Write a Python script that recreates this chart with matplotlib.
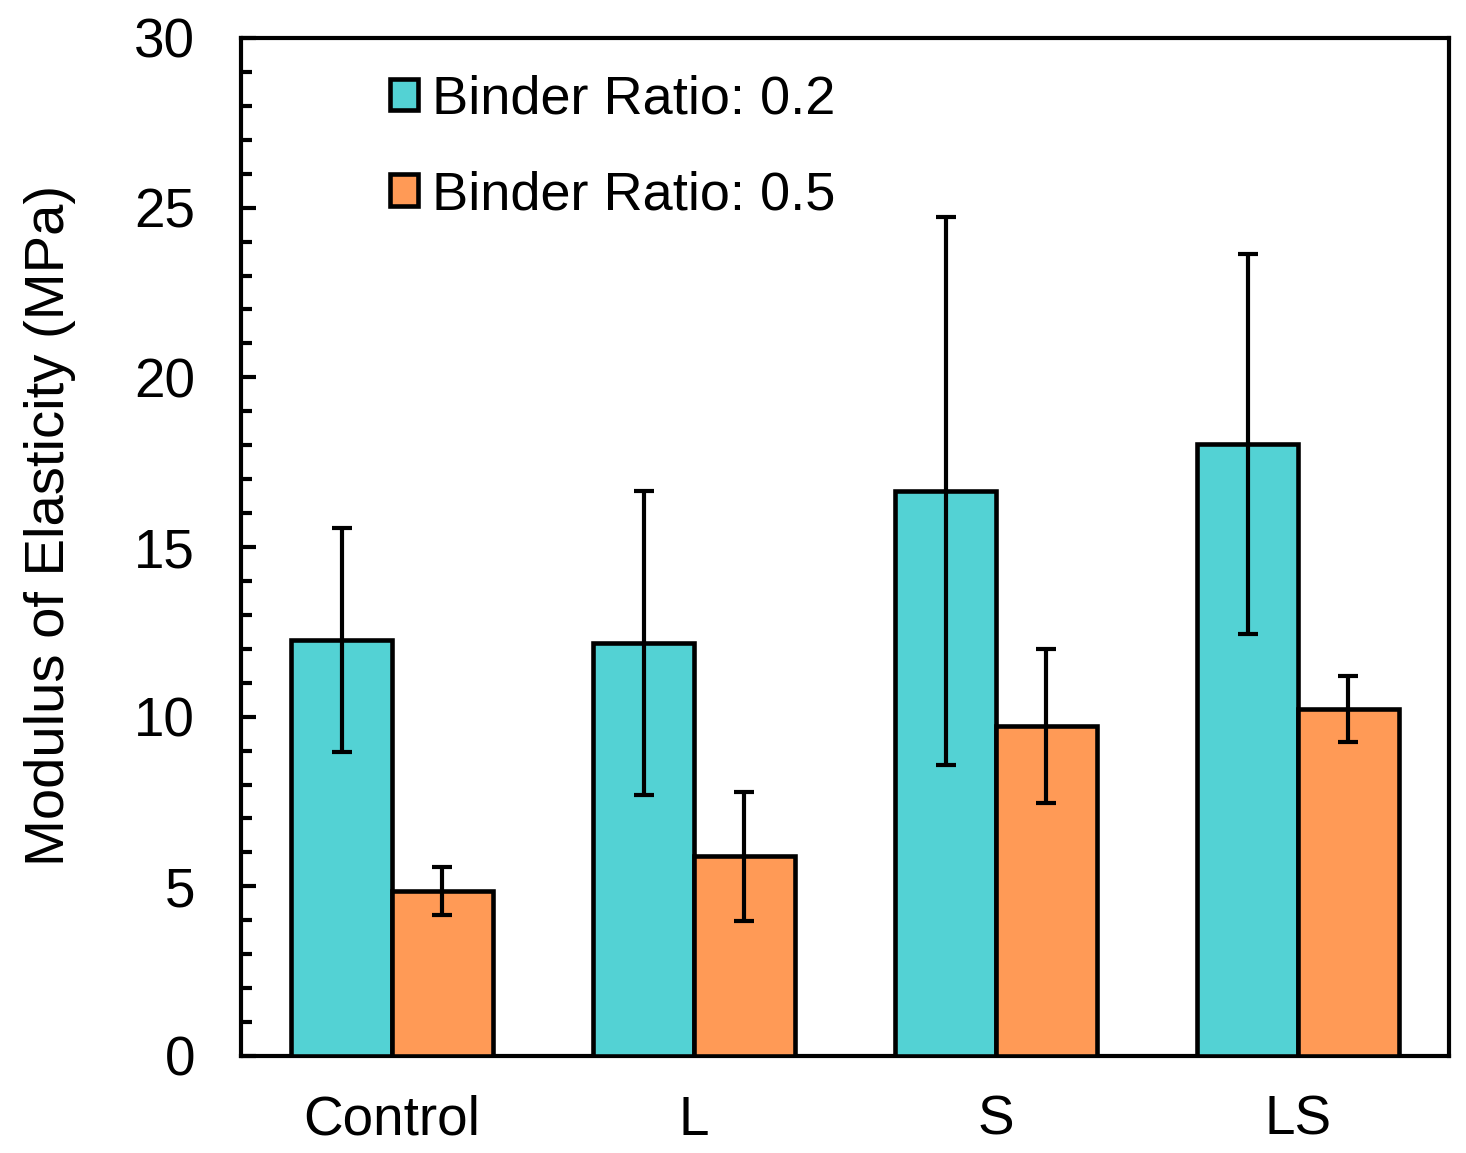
import numpy as np
import matplotlib
matplotlib.use("Agg")
import matplotlib.pyplot as plt
from matplotlib.ticker import MultipleLocator

plt.rcParams['font.family'] = ['Liberation Sans', 'DejaVu Sans']

# data
groups = ["Control", "L", "S", "LS"]
ratio_02 = [12.26, 12.17, 16.65, 18.04]
err_02 = [3.30, 4.47, 8.07, 5.60]
ratio_05 = [4.86, 5.89, 9.73, 10.23]
err_05 = [0.70, 1.90, 2.26, 0.97]

teal = "#53D2D4"
orange = "#FF9A56"

fig = plt.figure(figsize=(14.66, 11.53), dpi=100)
ax = fig.add_axes([241/1466, 1 - 1056/1153, 1208/1466, 1018/1153])

x = np.arange(len(groups))
w = 1/3
ekw = dict(elinewidth=3.0, capthick=3.0, ecolor="black", zorder=4)

ax.bar(x - w/2, ratio_02, w, yerr=err_02, color=teal, edgecolor="black",
       linewidth=3.3, capsize=7.5, error_kw=ekw, label="Binder Ratio: 0.2", zorder=3)
ax.bar(x + w/2, ratio_05, w, yerr=err_05, color=orange, edgecolor="black",
       linewidth=3.3, capsize=7.5, error_kw=ekw, label="Binder Ratio: 0.5", zorder=3)

ax.set_xlim(-0.5, 3.5)
ax.set_ylim(0, 30)
ax.set_xticks(x)
ax.set_xticklabels(groups)
ax.yaxis.set_major_locator(MultipleLocator(5))
ax.yaxis.set_minor_locator(MultipleLocator(1))

ax.tick_params(axis="x", length=0, pad=28, labelsize=39.5)
ax.tick_params(axis="y", which="major", direction="in", length=11, width=3,
               pad=33, labelsize=39.5)
ax.tick_params(axis="y", which="minor", direction="in", length=8, width=3)

for s in ax.spines.values():
    s.set_linewidth(3)

ax.set_ylabel("Modulus of Elasticity (MPa)", fontsize=40.5)
ax.yaxis.set_label_coords(-0.137, 0.5216)

ax.legend(loc="upper left", bbox_to_anchor=(0.123, 0.964), frameon=False,
          fontsize=39, handlelength=0.52, handleheight=0.52, handletextpad=0.26,
          labelspacing=0.84, borderpad=0, borderaxespad=0)

fig.savefig("out.png", dpi=100)
